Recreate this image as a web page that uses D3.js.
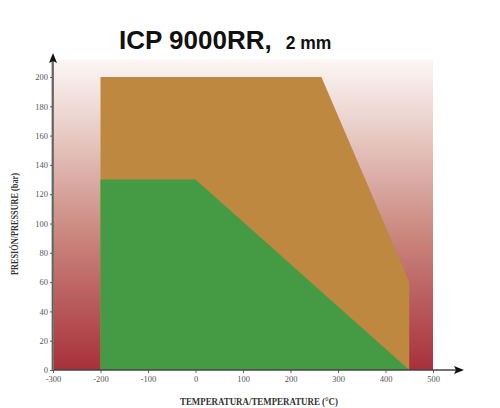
<!DOCTYPE html>
<html>
<head>
<meta charset="utf-8">
<script src="https://cdn.jsdelivr.net/npm/d3@7"></script>
<style>
html,body{margin:0;padding:0;background:#fff;}
svg{display:block;}
</style>
</head>
<body>
<svg id="chart" width="500" height="408"></svg>
<script>
// ---- data ----
const xTicks = [-300, -200, -100, 0, 100, 200, 300, 400, 500];
const yTicks = [0, 20, 40, 60, 80, 100, 120, 140, 160, 180, 200];
// Outer (orange) operating envelope: [temperature °C, pressure bar]
const orangeArea = [[-200, 0], [-200, 200], [265, 200], [450, 60], [450, 0]];
// Inner (green) operating envelope
const greenArea = [[-200, 0], [-200, 130], [0, 130], [450, 0]];
const bgTop = 212;
const titleMain = "ICP 9000RR,";
const titleSub = "2 mm";
const xTitle = "TEMPERATURA/TEMPERATURE (°C)";
const yTitle = "PRESIÓN/PRESSURE (bar)";

const svg = d3.select("#chart");
const x = d3.scaleLinear().domain([-300, 500]).range([53, 433]);
const y = d3.scaleLinear().domain([0, 200]).range([370, 77]);

const defs = svg.append("defs");
const grad = defs.append("linearGradient").attr("id", "bg").attr("x1", 0).attr("y1", 0).attr("x2", 0).attr("y2", 1);
grad.append("stop").attr("offset", "0%").attr("stop-color", "#fcf6f5");
grad.append("stop").attr("offset", "20%").attr("stop-color", "#ecd2cd");
grad.append("stop").attr("offset", "55%").attr("stop-color", "#cb8a81");
grad.append("stop").attr("offset", "100%").attr("stop-color", "#a8303a");

// background
svg.append("rect")
  .attr("x", x(-300)).attr("y", y(bgTop))
  .attr("width", x(500) - x(-300)).attr("height", y(0) - y(bgTop))
  .attr("fill", "url(#bg)");

const line = d3.line().x(d => x(d[0])).y(d => y(d[1]));
svg.append("path").attr("d", line(orangeArea) + "Z").attr("fill", "#bf8840");
svg.append("path").attr("d", line(greenArea) + "Z").attr("fill", "#459b43");

// axes
const tickFont = "'Liberation Serif', 'DejaVu Serif', serif";
const fmt = d => String(d);
const xAxis = svg.append("g").attr("transform", `translate(0,${y(0)})`)
  .call(d3.axisBottom(x).tickValues(xTicks).tickFormat(fmt).tickSize(3).tickPadding(3));
xAxis.select(".domain").remove();
xAxis.selectAll("text").attr("font-family", tickFont).attr("font-size", 8.5).attr("fill", "#555");
xAxis.selectAll("line").attr("stroke", "#666");

const yAxis = svg.append("g").attr("transform", `translate(${x(-300)},0)`)
  .call(d3.axisLeft(y).tickValues(yTicks).tickFormat(fmt).tickSize(3).tickPadding(2));
yAxis.select(".domain").remove();
yAxis.selectAll("text").attr("font-family", tickFont).attr("font-size", 8.5).attr("fill", "#555");
yAxis.selectAll("line").attr("stroke", "#666");

// axis lines with arrows
svg.append("line").attr("x1", x(-300)).attr("x2", 457).attr("y1", y(0)).attr("y2", y(0))
  .attr("stroke", "#444").attr("stroke-width", 1.3);
svg.append("path").attr("d", `M464,${y(0)} L454,${y(0) - 4} L456,${y(0)} L454,${y(0) + 4} Z`).attr("fill", "#111");
svg.append("line").attr("x1", x(-300)).attr("x2", x(-300)).attr("y1", y(0)).attr("y2", 60)
  .attr("stroke", "#777").attr("stroke-width", 2);
svg.append("line").attr("x1", x(-300) - 1).attr("x2", x(-300) - 1).attr("y1", y(0)).attr("y2", 60)
  .attr("stroke", "#333").attr("stroke-width", 0.6);
svg.append("path").attr("d", `M${x(-300)},53 L${x(-300) - 4},63 L${x(-300)},61 L${x(-300) + 4},63 Z`).attr("fill", "#111");

// titles
const t = svg.append("text").attr("x", 119).attr("y", 49)
  .attr("font-family", "'Liberation Sans', Arial, sans-serif").attr("font-weight", "bold").attr("fill", "#111");
t.append("tspan").attr("font-size", 26).text(titleMain);
t.append("tspan").attr("font-size", 17.5).attr("dx", 14).text(titleSub);

svg.append("text").attr("x", 259).attr("y", 405).attr("text-anchor", "middle")
  .attr("font-family", tickFont).attr("font-size", 9.5).attr("font-weight", "bold").attr("fill", "#333")
  .attr("textLength", 158).attr("lengthAdjust", "spacingAndGlyphs")
  .text(xTitle);

svg.append("text").attr("transform", "translate(18,224) rotate(-90)").attr("text-anchor", "middle")
  .attr("font-family", tickFont).attr("font-size", 9.5).attr("font-weight", "bold").attr("fill", "#333")
  .attr("textLength", 102).attr("lengthAdjust", "spacingAndGlyphs")
  .text(yTitle);
</script>
</body>
</html>
